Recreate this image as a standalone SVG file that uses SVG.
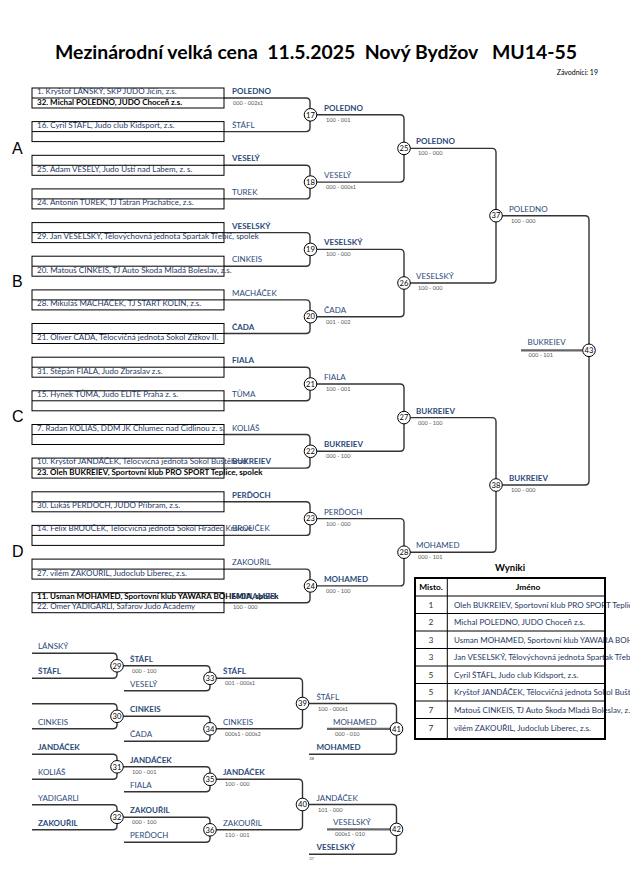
<svg xmlns="http://www.w3.org/2000/svg" width="630" height="891" viewBox="0 0 630 891">
<style>
text{font-family:Lato,"Liberation Sans",sans-serif}
.e{font-size:8px;fill:#1F3864}
.b{font-weight:bold;fill:#000}
.n{font-size:8px;fill:#2b4a7a}
.s{font-size:5.6px;fill:#555}
.c{font-size:7.6px;text-anchor:middle;fill:#000}
.grp{font-family:"Liberation Sans",sans-serif;font-size:16px;fill:#000}
.box{fill:none;stroke:#000;stroke-width:1}
.ln{fill:none;stroke:#333;stroke-width:1.4}
.fat{fill:none;stroke:#666;stroke-width:2.2}
.cir{fill:#fff;stroke:#000;stroke-width:1}
.tiny{font-size:4.5px;fill:#555}
.tb{fill:none;stroke:#000;stroke-width:2}
.tl{stroke:#000;stroke-width:1}
.tt{font-size:8px;fill:#1F3864}
.tn{font-size:8.4px;fill:#333;text-anchor:middle}
</style>

<g id="title">
<text x="316" y="59" font-size="18.5" font-weight="bold" text-anchor="middle" textLength="522" lengthAdjust="spacingAndGlyphs" xml:space="preserve">Mezinárodní velká cena  11.5.2025  Nový Bydžov   MU14-55</text>
<text x="598" y="75" font-size="7" text-anchor="end" fill="#000">Závodníci: 19</text>
</g>

<g id="groups">
<text class="grp" x="12" y="154">A</text>
<text class="grp" x="12" y="287">B</text>
<text class="grp" x="12" y="422">C</text>
<text class="grp" x="12" y="557">D</text>
</g>

<g id="connectors">
<path class="ln" d="M224 98 H306 Q310 98 310 102 V127.6 Q310 131.6 306 131.6 H224"/>
<path class="ln" d="M224 165.3 H306 Q310 165.3 310 169.3 V194.9 Q310 198.9 306 198.9 H224"/>
<path class="ln" d="M224 232.6 H306 Q310 232.6 310 236.6 V262.2 Q310 266.2 306 266.2 H224"/>
<path class="ln" d="M224 299.9 H306 Q310 299.9 310 303.9 V329.5 Q310 333.5 306 333.5 H224"/>
<path class="ln" d="M224 367.2 H306 Q310 367.2 310 371.2 V396.8 Q310 400.8 306 400.8 H224"/>
<path class="ln" d="M224 434.5 H306 Q310 434.5 310 438.5 V464.1 Q310 468.1 306 468.1 H224"/>
<path class="ln" d="M224 501.8 H306 Q310 501.8 310 505.8 V531.4 Q310 535.4 306 535.4 H224"/>
<path class="ln" d="M224 569.1 H306 Q310 569.1 310 573.1 V598.7 Q310 602.7 306 602.7 H224"/>
<path class="ln" d="M316 114.8 H400 Q404 114.8 404 118.8 V178.1 Q404 182.1 400 182.1 H316"/>
<path class="ln" d="M316 249.4 H400 Q404 249.4 404 253.4 V312.7 Q404 316.7 400 316.7 H316"/>
<path class="ln" d="M316 384 H400 Q404 384 404 388 V447.3 Q404 451.3 400 451.3 H316"/>
<path class="ln" d="M316 518.6 H400 Q404 518.6 404 522.6 V581.9 Q404 585.9 400 585.9 H316"/>
<path class="ln" d="M410 148.4 H492 Q496 148.4 496 152.4 V279 Q496 283 492 283 H410"/>
<path class="ln" d="M410 417.6 H492 Q496 417.6 496 421.6 V548.2 Q496 552.2 492 552.2 H410"/>
<path class="ln" d="M502 215.7 H585 Q589 215.7 589 219.7 V481 Q589 485 585 485 H502"/>
<line class="fat" x1="521" y1="350.3" x2="583" y2="350.3"/>
<path class="ln" d="M32 653.3 H113 Q117 653.3 117 657.3 V674.3 Q117 678.3 113 678.3 H32"/>
<path class="ln" d="M32 703.8 H113 Q117 703.8 117 707.8 V724.8 Q117 728.8 113 728.8 H32"/>
<path class="ln" d="M32 754.3 H113 Q117 754.3 117 758.3 V775.3 Q117 779.3 113 779.3 H32"/>
<path class="ln" d="M32 804.8 H113 Q117 804.8 117 808.8 V825.8 Q117 829.8 113 829.8 H32"/>
<path class="ln" d="M123 665.8 H206 Q210 665.8 210 669.8 V686.8 Q210 690.8 206 690.8 H124"/>
<path class="ln" d="M123 716.3 H206 Q210 716.3 210 720.3 V737.3 Q210 741.3 206 741.3 H124"/>
<path class="ln" d="M123 766.8 H206 Q210 766.8 210 770.8 V787.8 Q210 791.8 206 791.8 H124"/>
<path class="ln" d="M123 817.3 H206 Q210 817.3 210 821.3 V838.3 Q210 842.3 206 842.3 H124"/>
<path class="ln" d="M216 678.3 H298.5 Q302.5 678.3 302.5 682.3 V724.8 Q302.5 728.8 298.5 728.8 H216"/>
<path class="ln" d="M216 779.3 H298.5 Q302.5 779.3 302.5 783.3 V825.8 Q302.5 829.8 298.5 829.8 H216"/>
<path class="ln" d="M308.8 703.5 H392.5 Q396.5 703.5 396.5 707.5 V750.3 Q396.5 754.3 392.5 754.3 H309"/>
<path class="ln" d="M308.8 804.5 H392.5 Q396.5 804.5 396.5 808.5 V850.3 Q396.5 854.3 392.5 854.3 H309"/>
<line class="fat" x1="327" y1="728.9" x2="390" y2="728.9"/>
<line class="fat" x1="327" y1="829.4" x2="390" y2="829.4"/>
</g>

<g id="box-1">
<rect class="box" x="32" y="88" width="192" height="20"/><line class="box" x1="32" y1="98" x2="224" y2="98"/>
<text class="e" x="37" y="94">1. Kryštof LÁNSKÝ, SKP JUDO Jičín, z.s.</text>
<text class="e b" x="37" y="104.5">32. Michal POLEDNO, JUDO Choceň z.s.</text>
</g>
<g id="box-16">
<rect class="box" x="32" y="121.6" width="192" height="20"/><line class="box" x1="32" y1="131.6" x2="224" y2="131.6"/>
<text class="e" x="37" y="127.6">16. Cyril ŠTÁFL, Judo club Kidsport, z.s.</text>
</g>
<g id="box-25">
<rect class="box" x="32" y="155.3" width="192" height="20"/><line class="box" x1="32" y1="165.3" x2="224" y2="165.3"/>
<text class="e" x="37" y="171.8">25. Adam VESELÝ, Judo Ústí nad Labem, z. s.</text>
</g>
<g id="box-24">
<rect class="box" x="32" y="188.9" width="192" height="20"/><line class="box" x1="32" y1="198.9" x2="224" y2="198.9"/>
<text class="e" x="37" y="205.4">24. Antonín TUREK, TJ Tatran Prachatice, z.s.</text>
</g>
<g id="box-29">
<rect class="box" x="32" y="222.6" width="192" height="20"/><line class="box" x1="32" y1="232.6" x2="224" y2="232.6"/>
<text class="e" x="37" y="239.1">29. Jan VESELSKÝ, Tělovýchovná jednota Spartak Třebíč, spolek</text>
</g>
<g id="box-20">
<rect class="box" x="32" y="256.2" width="192" height="20"/><line class="box" x1="32" y1="266.2" x2="224" y2="266.2"/>
<text class="e" x="37" y="272.7">20. Matouš CINKEIS, TJ Auto Škoda Mladá Boleslav, z.s.</text>
</g>
<g id="box-28">
<rect class="box" x="32" y="289.9" width="192" height="20"/><line class="box" x1="32" y1="299.9" x2="224" y2="299.9"/>
<text class="e" x="37" y="306.4">28. Mikuláš MACHÁČEK, TJ START KOLÍN, z.s.</text>
</g>
<g id="box-21">
<rect class="box" x="32" y="323.5" width="192" height="20"/><line class="box" x1="32" y1="333.5" x2="224" y2="333.5"/>
<text class="e" x="37" y="340">21. Oliver ČADA, Tělocvičná jednota Sokol Žižkov II.</text>
</g>
<g id="box-31">
<rect class="box" x="32" y="357.2" width="192" height="20"/><line class="box" x1="32" y1="367.2" x2="224" y2="367.2"/>
<text class="e" x="37" y="373.7">31. Štěpán FIALA, Judo Zbraslav z.s.</text>
</g>
<g id="box-15">
<rect class="box" x="32" y="390.8" width="192" height="20"/><line class="box" x1="32" y1="400.8" x2="224" y2="400.8"/>
<text class="e" x="37" y="396.8">15. Hynek TŮMA, Judo ELITE Praha z. s.</text>
</g>
<g id="box-7">
<rect class="box" x="32" y="424.5" width="192" height="20"/><line class="box" x1="32" y1="434.5" x2="224" y2="434.5"/>
<text class="e" x="37" y="430.5">7. Radan KOLIÁŠ, DDM JK Chlumec nad Cidlinou z. s.</text>
</g>
<g id="box-10">
<rect class="box" x="32" y="458.1" width="192" height="20"/><line class="box" x1="32" y1="468.1" x2="224" y2="468.1"/>
<text class="e" x="37" y="464.1">10. Kryštof JANDÁČEK, Tělocvičná jednota Sokol Buštěhrad</text>
<text class="e b" x="37" y="474.6">23. Oleh BUKREIEV, Sportovní klub PRO SPORT Teplice, spolek</text>
</g>
<g id="box-30">
<rect class="box" x="32" y="491.8" width="192" height="20"/><line class="box" x1="32" y1="501.8" x2="224" y2="501.8"/>
<text class="e" x="37" y="508.3">30. Lukáš PERĎOCH, JUDO Příbram, z.s.</text>
</g>
<g id="box-14">
<rect class="box" x="32" y="525.4" width="192" height="20"/><line class="box" x1="32" y1="535.4" x2="224" y2="535.4"/>
<text class="e" x="37" y="531.4">14. Felix BROUČEK, Tělocvičná jednota Sokol Hradec Králové</text>
</g>
<g id="box-27">
<rect class="box" x="32" y="559.1" width="192" height="20"/><line class="box" x1="32" y1="569.1" x2="224" y2="569.1"/>
<text class="e" x="37" y="575.6">27. vilém ZAKOUŘIL, Judoclub Liberec, z.s.</text>
</g>
<g id="box-11">
<rect class="box" x="32" y="592.7" width="192" height="20"/><line class="box" x1="32" y1="602.7" x2="224" y2="602.7"/>
<text class="e b" x="37" y="598.7">11. Usman MOHAMED, Sportovní klub YAWARA BOHEMIA, spolek</text>
<text class="e" x="37" y="609.2">22. Omer YADIGARLI, Safarov Judo Academy</text>
</g>

<g id="labels-r1">
<text class="n b" x="232" y="94">POLEDNO</text><text class="s" x="233" y="104.5">000 - 002s1</text>
<text class="n" x="232" y="127.6">ŠTÁFL</text>
<text class="n b" x="232" y="161.3">VESELÝ</text>
<text class="n" x="232" y="194.9">TUREK</text>
<text class="n b" x="232" y="228.6">VESELSKÝ</text>
<text class="n" x="232" y="262.2">CINKEIS</text>
<text class="n" x="232" y="295.9">MACHÁČEK</text>
<text class="n b" x="232" y="329.5">ČADA</text>
<text class="n b" x="232" y="363.2">FIALA</text>
<text class="n" x="232" y="396.8">TŮMA</text>
<text class="n" x="232" y="430.5">KOLIÁŠ</text>
<text class="n b" x="232" y="464.1">BUKREIEV</text>
<text class="n b" x="232" y="497.8">PERĎOCH</text>
<text class="n" x="232" y="531.4">BROUČEK</text>
<text class="n" x="232" y="565.1">ZAKOUŘIL</text>
<text class="n b" x="232" y="598.7">MOHAMED</text><text class="s" x="233" y="609.2">100 - 000</text>
</g>

<g id="labels-main">
<text class="n b" x="324" y="110.8">POLEDNO</text><text class="s" x="326" y="121.8">100 - 001</text>
<text class="n" x="324" y="178.1">VESELÝ</text><text class="s" x="326" y="189.1">000 - 000s1</text>
<text class="n b" x="324" y="245.4">VESELSKÝ</text><text class="s" x="326" y="256.4">100 - 000</text>
<text class="n" x="324" y="312.7">ČADA</text><text class="s" x="326" y="323.7">001 - 002</text>
<text class="n" x="324" y="380">FIALA</text><text class="s" x="326" y="391">100 - 001</text>
<text class="n b" x="324" y="447.3">BUKREIEV</text><text class="s" x="326" y="458.3">000 - 100</text>
<text class="n" x="324" y="514.6">PERĎOCH</text><text class="s" x="326" y="525.6">100 - 000</text>
<text class="n b" x="324" y="581.9">MOHAMED</text><text class="s" x="326" y="592.9">000 - 100</text>
<text class="n b" x="416" y="144.4">POLEDNO</text><text class="s" x="418" y="155.4">100 - 000</text>
<text class="n" x="416" y="279">VESELSKÝ</text><text class="s" x="418" y="290">100 - 000</text>
<text class="n b" x="416" y="413.6">BUKREIEV</text><text class="s" x="418" y="424.6">000 - 100</text>
<text class="n" x="416" y="548.2">MOHAMED</text><text class="s" x="418" y="559.2">000 - 101</text>
<text class="n" x="509" y="211.7">POLEDNO</text><text class="s" x="511" y="222.7">100 - 000</text>
<text class="n b" x="509" y="481">BUKREIEV</text><text class="s" x="511" y="492">100 - 000</text>
<text class="n" x="527.5" y="345.3">BUKREIEV</text><text class="s" x="528.5" y="357.3">000 - 101</text>
</g>

<g id="labels-rep">
<text class="n" x="38" y="649.3">LÁNSKÝ</text>
<text class="n b" x="38" y="674.3">ŠTÁFL</text>
<text class="n" x="38" y="724.8">CINKEIS</text>
<text class="n b" x="38" y="750.3">JANDÁČEK</text>
<text class="n" x="38" y="775.3">KOLIÁŠ</text>
<text class="n" x="38" y="800.8">YADIGARLI</text>
<text class="n b" x="38" y="825.8">ZAKOUŘIL</text>
<text class="n b" x="130" y="661.8">ŠTÁFL</text><text class="s" x="132" y="672.8">000 - 100</text>
<text class="n" x="130" y="686.8">VESELÝ</text>
<text class="n b" x="130" y="712.3">CINKEIS</text>
<text class="n" x="130" y="737.3">ČADA</text>
<text class="n b" x="130" y="762.8">JANDÁČEK</text><text class="s" x="132" y="773.8">100 - 001</text>
<text class="n" x="130" y="787.8">FIALA</text>
<text class="n b" x="130" y="813.3">ZAKOUŘIL</text><text class="s" x="132" y="824.3">000 - 100</text>
<text class="n" x="130" y="838.3">PERĎOCH</text>
<text class="n b" x="223" y="674.3">ŠTÁFL</text><text class="s" x="225" y="685.3">001 - 000s1</text>
<text class="n" x="223" y="724.8">CINKEIS</text><text class="s" x="225" y="735.8">000s1 - 000s2</text>
<text class="n b" x="223" y="775.3">JANDÁČEK</text><text class="s" x="225" y="786.3">100 - 000</text>
<text class="n" x="223" y="825.8">ZAKOUŘIL</text><text class="s" x="225" y="836.8">110 - 001</text>
<text class="n" x="316.5" y="699.5">ŠTÁFL</text><text class="s" x="318" y="710.5">100 - 000s1</text>
<text class="n" x="333" y="724.9">MOHAMED</text><text class="s" x="335" y="735.9">000 - 010</text>
<text class="n b" x="316.5" y="750.3">MOHAMED</text><text class="tiny" x="309" y="760">38</text>
<text class="n" x="316.5" y="800.5">JANDÁČEK</text><text class="s" x="318" y="811.5">101 - 000</text>
<text class="n" x="333" y="825.4">VESELSKÝ</text><text class="s" x="335" y="836.4">000s1 - 010</text>
<text class="n b" x="316.5" y="850.3">VESELSKÝ</text><text class="tiny" x="309" y="860">37</text>
</g>

<g id="m17"><circle class="cir" cx="310.5" cy="114.8" r="6.3"/><text class="c" x="310.5" y="117.5">17</text></g>
<g id="m18"><circle class="cir" cx="310.5" cy="182.1" r="6.3"/><text class="c" x="310.5" y="184.8">18</text></g>
<g id="m19"><circle class="cir" cx="310.5" cy="249.4" r="6.3"/><text class="c" x="310.5" y="252.1">19</text></g>
<g id="m20"><circle class="cir" cx="310.5" cy="316.7" r="6.3"/><text class="c" x="310.5" y="319.4">20</text></g>
<g id="m21"><circle class="cir" cx="310.5" cy="384" r="6.3"/><text class="c" x="310.5" y="386.7">21</text></g>
<g id="m22"><circle class="cir" cx="310.5" cy="451.3" r="6.3"/><text class="c" x="310.5" y="454">22</text></g>
<g id="m23"><circle class="cir" cx="310.5" cy="518.6" r="6.3"/><text class="c" x="310.5" y="521.3">23</text></g>
<g id="m24"><circle class="cir" cx="310.5" cy="585.9" r="6.3"/><text class="c" x="310.5" y="588.6">24</text></g>
<g id="m25"><circle class="cir" cx="404" cy="148.4" r="6.3"/><text class="c" x="404" y="151.1">25</text></g>
<g id="m26"><circle class="cir" cx="404" cy="283" r="6.3"/><text class="c" x="404" y="285.7">26</text></g>
<g id="m27"><circle class="cir" cx="404" cy="417.6" r="6.3"/><text class="c" x="404" y="420.3">27</text></g>
<g id="m28"><circle class="cir" cx="404" cy="552.2" r="6.3"/><text class="c" x="404" y="554.9">28</text></g>
<g id="m37"><circle class="cir" cx="496" cy="215.7" r="6.3"/><text class="c" x="496" y="218.4">37</text></g>
<g id="m38"><circle class="cir" cx="496" cy="485" r="6.3"/><text class="c" x="496" y="487.7">38</text></g>
<g id="m43"><circle class="cir" cx="589" cy="350.3" r="6.3"/><text class="c" x="589" y="353">43</text></g>
<g id="m29"><circle class="cir" cx="117" cy="665.8" r="6.3"/><text class="c" x="117" y="668.5">29</text></g>
<g id="m30"><circle class="cir" cx="117" cy="716.3" r="6.3"/><text class="c" x="117" y="719">30</text></g>
<g id="m31"><circle class="cir" cx="117" cy="766.8" r="6.3"/><text class="c" x="117" y="769.5">31</text></g>
<g id="m32"><circle class="cir" cx="117" cy="817.3" r="6.3"/><text class="c" x="117" y="820">32</text></g>
<g id="m33"><circle class="cir" cx="210" cy="678.3" r="6.3"/><text class="c" x="210" y="681">33</text></g>
<g id="m34"><circle class="cir" cx="210" cy="728.8" r="6.3"/><text class="c" x="210" y="731.5">34</text></g>
<g id="m35"><circle class="cir" cx="210" cy="779.3" r="6.3"/><text class="c" x="210" y="782">35</text></g>
<g id="m36"><circle class="cir" cx="210" cy="829.8" r="6.3"/><text class="c" x="210" y="832.5">36</text></g>
<g id="m39"><circle class="cir" cx="302.5" cy="703.5" r="6.3"/><text class="c" x="302.5" y="706.2">39</text></g>
<g id="m40"><circle class="cir" cx="302.5" cy="804.5" r="6.3"/><text class="c" x="302.5" y="807.2">40</text></g>
<g id="m41"><circle class="cir" cx="396.5" cy="728.9" r="6.3"/><text class="c" x="396.5" y="731.6">41</text></g>
<g id="m42"><circle class="cir" cx="396.5" cy="829.4" r="6.3"/><text class="c" x="396.5" y="832.1">42</text></g>

<g id="results">
<text x="510" y="570.5" font-size="9.5" font-weight="bold" text-anchor="middle" fill="#000">Wyniki</text>
<text class="tt" x="454" y="607.5">Oleh BUKREIEV, Sportovní klub PRO SPORT Teplice, spolek</text>
<text class="tt" x="454" y="625">Michal POLEDNO, JUDO Choceň z.s.</text>
<text class="tt" x="454" y="642.5">Usman MOHAMED, Sportovní klub YAWARA BOHEMIA, spolek</text>
<text class="tt" x="454" y="660">Jan VESELSKÝ, Tělovýchovná jednota Spartak Třebíč, spolek</text>
<text class="tt" x="454" y="677.5">Cyril ŠTÁFL, Judo club Kidsport, z.s.</text>
<text class="tt" x="454" y="695">Kryštof JANDÁČEK, Tělocvičná jednota Sokol Buštěhrad</text>
<text class="tt" x="454" y="712.5">Matouš CINKEIS, TJ Auto Škoda Mladá Boleslav, z.s.</text>
<text class="tt" x="454" y="731">vilém ZAKOUŘIL, Judoclub Liberec, z.s.</text>
<rect class="tb" x="415" y="578" width="190" height="161"/>
<line class="tl" x1="415" y1="596" x2="605" y2="596"/>
<line class="tl" x1="415" y1="613.5" x2="605" y2="613.5"/>
<line class="tl" x1="415" y1="631" x2="605" y2="631"/>
<line class="tl" x1="415" y1="648.5" x2="605" y2="648.5"/>
<line class="tl" x1="415" y1="666" x2="605" y2="666"/>
<line class="tl" x1="415" y1="683.5" x2="605" y2="683.5"/>
<line class="tl" x1="415" y1="701" x2="605" y2="701"/>
<line class="tl" x1="415" y1="718.5" x2="605" y2="718.5"/>
<line class="tl" x1="447.3" y1="578" x2="447.3" y2="739"/>
<text x="431" y="590" font-size="8.4" font-weight="bold" text-anchor="middle" fill="#000">Misto.</text>
<text x="528" y="590" font-size="8.4" font-weight="bold" text-anchor="middle" fill="#000">Jméno</text>
<text class="tn" x="431" y="607.5">1</text>
<text class="tn" x="431" y="625">2</text>
<text class="tn" x="431" y="642.5">3</text>
<text class="tn" x="431" y="660">3</text>
<text class="tn" x="431" y="677.5">5</text>
<text class="tn" x="431" y="695">5</text>
<text class="tn" x="431" y="712.5">7</text>
<text class="tn" x="431" y="731">7</text>
</g>
</svg>
